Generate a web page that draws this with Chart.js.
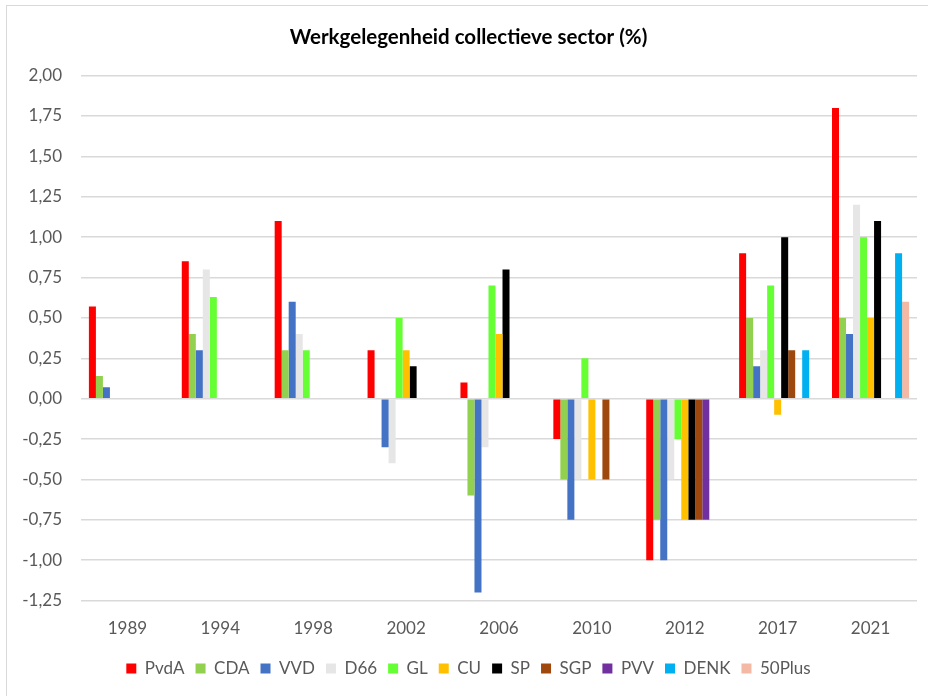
<!DOCTYPE html>
<html>
<head>
<meta charset="utf-8">
<script src="https://cdn.jsdelivr.net/npm/chart.js@4"></script>
<style>
  body{margin:0;background:#fff;}
  #wrap{position:relative;width:928px;height:696px;overflow:hidden;}
  #frame{position:absolute;left:6px;top:5px;width:960px;height:720px;border:1.5px solid #d9d9d9;box-sizing:border-box;}
  canvas{position:absolute;left:0;top:0;}
</style>
</head>
<body>
<div id="wrap"><div id="frame"></div><canvas id="chart" width="928" height="696"></canvas></div>
<script>
// jaren
const years = ['1989','1994','1998','2002','2006','2010','2012','2017','2021'];

// waarden per partij, null = geen balk
const pvda   = [0.57, 0.85, 1.10, 0.30, 0.10, -0.25, -1.00, 0.90, 1.80];
const cda    = [0.14, 0.40, 0.30, null, -0.60, -0.50, -0.75, 0.50, 0.50];
const vvd    = [0.07, 0.30, 0.60, -0.30, -1.20, -0.75, -1.00, 0.20, 0.40];
const d66    = [null, 0.80, 0.40, -0.40, -0.30, -0.50, -0.50, 0.30, 1.20];
const gl     = [null, 0.63, 0.30, 0.50, 0.70, 0.25, -0.25, 0.70, 1.00];
const cu     = [null, null, null, 0.30, 0.40, -0.50, -0.75, -0.10, 0.50];
const sp     = [null, null, null, 0.20, 0.80, null, -0.75, 1.00, 1.10];
const sgp    = [null, null, null, null, null, -0.50, -0.75, 0.30, null];
const pvv    = [null, null, null, null, null, null, -0.75, null, null];
const denk   = [null, null, null, null, null, null, null, 0.30, 0.90];
const plus50 = [null, null, null, null, null, null, null, null, 0.60];

const parties = ['PvdA','CDA','VVD','D66','GL','CU','SP','SGP','PVV','DENK','50Plus'];
const colors  = ['#ff0000','#92d050','#4472c4','#e7e6e6','#66ff33','#ffc000','#000000','#9e480e','#7030a0','#00b0f0','#f4b9a4'];
const series  = [pvda,cda,vvd,d66,gl,cu,sp,sgp,pvv,denk,plus50];

const txt = '#595959';
const font = 'Lato, "Open Sans", sans-serif';

new Chart(document.getElementById('chart'), {
  type: 'bar',
  data: {
    labels: years,
    datasets: series.map((d,i)=>({label:parties[i], data:d, backgroundColor:colors[i], borderWidth:0,
      barPercentage:1, categoryPercentage:0.83}))
  },
  options: {
    responsive:false, animation:false,
    layout:{padding:{left:20,right:11,top:0,bottom:9}},
    plugins:{
      title:{display:true, text:'Werkgelegenheid collectieve sector (%)', color:'#000',
        font:{family:font, size:20.5, weight:'bold'}, padding:{top:25,bottom:26}},
      legend:{position:'bottom', labels:{color:txt, boxWidth:10, boxHeight:10, padding:11,
        font:{family:font, size:17}}},
      tooltip:{enabled:false}
    },
    scales:{
      x:{grid:{display:false}, border:{display:false},
        ticks:{color:txt, font:{family:font, size:17}, padding:10}},
      y:{min:-1.25, max:2, grid:{color:'#d9d9d9', lineWidth:1.5, drawTicks:false}, border:{display:false},
        ticks:{stepSize:0.25, color:txt, font:{family:font, size:17}, padding:19,
          callback:v=>v.toFixed(2).replace('.',',')},
        afterFit:s=>{s.width=61;}}
    }
  }
});
</script>
</body>
</html>
